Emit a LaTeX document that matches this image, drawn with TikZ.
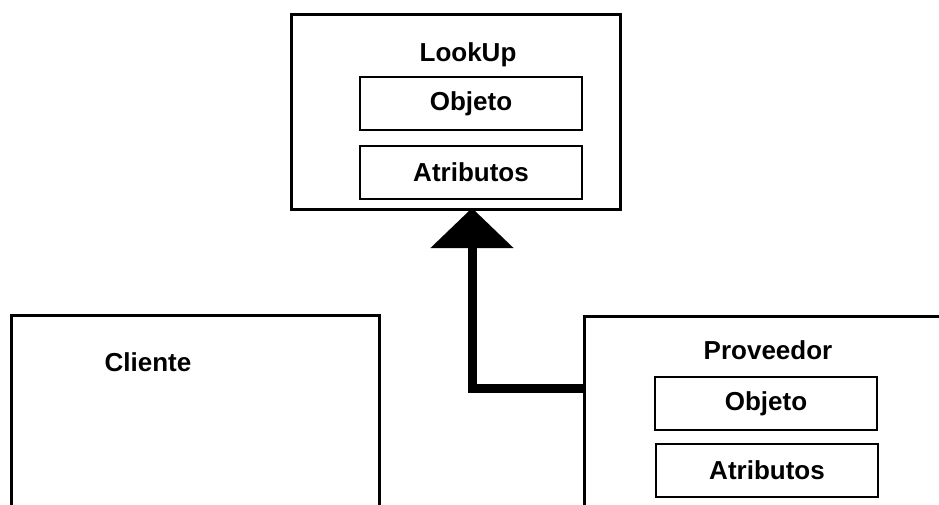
\documentclass[tikz,border=0pt]{standalone}
\usepackage{fontspec}
\setmainfont{Liberation Sans}
\usetikzlibrary{arrows.meta}
\tikzset{
	clase/.style={draw, line width=2.5pt, anchor=north west, inner sep=0pt},
	campo/.style={draw, line width=2pt, minimum width=222pt, minimum height=53pt, inner sep=0pt, font=\fontsize{26}{30}\selectfont\bfseries},
	titulo/.style={font=\fontsize{26}{30}\selectfont\bfseries, inner sep=0pt},
	herencia/.style={line width=9pt, line join=miter, -{Triangle[width=81pt,length=40pt]}}
}
\begin{document}
\begin{tikzpicture}[x=1pt, y=-1pt]
		\useasboundingbox (0,0) rectangle (939,504);
		\clip (0,0) rectangle (939,504);
		\node[clase, minimum width=329pt, minimum height=195pt] (lookup) at (290,13) {};
		\node[titulo] (lookupnom) at (468,55) {LookUp};
		\node[campo] (lookupobj) at (471,103.5) {Objeto};
		\node[campo] (lookupatr) at (471,172.5) {Atributos};
		\node[clase, minimum width=368pt, minimum height=240pt] (cliente) at (10,314) {};
		\node[titulo] (clientenom) at (148,362) {Cliente};
		\node[clase, minimum width=400pt, minimum height=240pt] (prov) at (583,315) {};
		\node[titulo] (provnom) at (768,350) {Proveedor};
		\node[campo] (provobj) at (766,403.5) {Objeto};
		\node[campo] (provatr) at (767,470.5) {Atributos};
		\coordinate (punta) at (472,208);
		\coordinate (codo) at (472,388);
		\draw[herencia] (prov.west |- codo) -- (codo) -- (punta);
	\end{tikzpicture}
\end{document}
